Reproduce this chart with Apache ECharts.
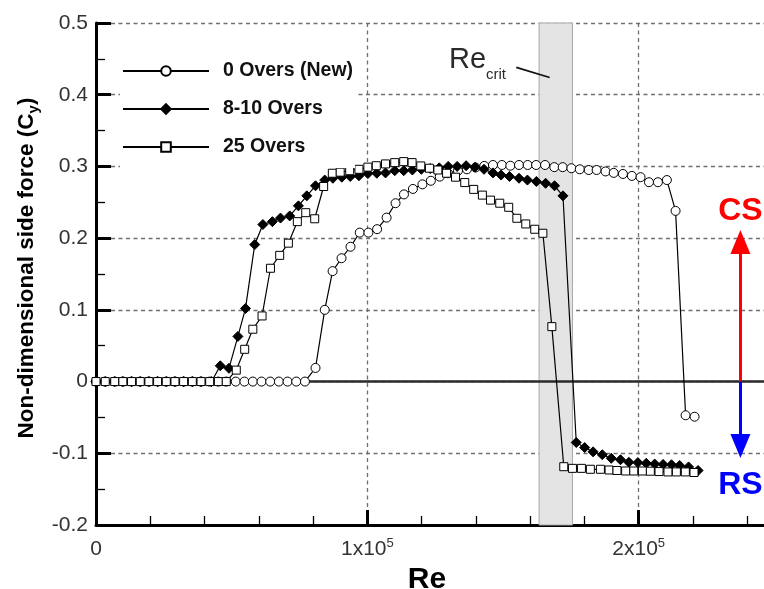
<!DOCTYPE html>
<html>
<head>
<meta charset="utf-8">
<script src="https://cdn.jsdelivr.net/npm/echarts@6/dist/echarts.min.js"></script>
<style>
  html, body { margin: 0; padding: 0; background: #ffffff; }
  #chart { width: 764px; height: 589px; }
</style>
</head>
<body>
<div id="chart"></div>
<script>
// Side force coefficient of a cricket ball against Reynolds number, for three ball ages.
const FONT = '"Liberation Sans", Arial, Helvetica, sans-serif';

const seriesNames = ['0 Overs (New)', '8-10 Overs', '25 Overs'];

// 0 overs (new ball)
const re0 = [0, 3400, 6900, 9900, 13100, 16300, 19500, 22700, 25900, 29100, 32300, 35500, 38700, 41900, 45100, 48000,
  51500, 54700, 57800, 61000, 64200, 67400, 70600, 73800, 77000, 80900, 84300, 87200, 90500, 93800, 97200, 100400,
  103600, 107100, 110400, 113500, 116800, 120300, 123400, 126700, 129700, 133400, 136700, 139900, 143100, 146300,
  149600, 152700, 155900, 159100, 162200, 165500, 168900, 172000, 175200, 178300, 181600, 184500, 187800, 190800,
  194200, 197500, 200700, 203800, 207100, 210400, 213600, 217300, 220600];
const cy0 = [0, 0, 0, 0, 0, 0, 0, 0, 0, 0, 0, 0, 0, 0, 0, 0,
  0, 0, 0, 0, 0, 0, 0, 0, 0, 0.019, 0.100, 0.154, 0.172, 0.188, 0.2077, 0.2077,
  0.2125, 0.2286, 0.2487, 0.261, 0.2686, 0.275, 0.280, 0.2858, 0.2905, 0.294, 0.296, 0.2985, 0.3007, 0.302,
  0.302, 0.301, 0.302, 0.302, 0.302, 0.302, 0.299, 0.299, 0.2975, 0.296, 0.295, 0.295, 0.293, 0.291,
  0.2895, 0.2868, 0.285, 0.278, 0.278, 0.281, 0.238, -0.047, -0.049];

// 8-10 overs
const re8 = [0, 3400, 6900, 9900, 13100, 16300, 19500, 22700, 25900, 29100, 32300, 35500, 38700, 42600,
  45800, 49000, 52300, 55100, 58500, 61500, 65000, 68000, 71400, 74600, 77700, 80900, 84300, 87300, 90600,
  93700, 96900, 100200, 103500, 106700, 110100, 113400, 116600, 119900, 123200, 126500, 129800, 133100, 136400,
  139700, 143000, 146300, 149300, 152400, 155900, 159000, 162300, 165700, 169000, 172100, 177000, 180100, 183200,
  186600, 189900, 193300, 196400, 199700, 202800, 205900, 209000, 212100, 215100, 218400, 221900];
const cy8 = [0, 0, 0, 0, 0, 0, 0, 0, 0, 0, 0, 0, 0, 0,
  0.022, 0.0185, 0.063, 0.102, 0.191, 0.219, 0.223, 0.228, 0.231, 0.245, 0.259, 0.273, 0.281, 0.2835, 0.285,
  0.286, 0.287, 0.290, 0.2905, 0.291, 0.294, 0.294, 0.295, 0.296, 0.297, 0.298, 0.300, 0.300, 0.301,
  0.299, 0.296, 0.291, 0.288, 0.286, 0.2835, 0.281, 0.279, 0.2765, 0.273, 0.259, -0.085, -0.092, -0.098,
  -0.102, -0.107, -0.109, -0.1125, -0.113, -0.114, -0.115, -0.1155, -0.116, -0.117, -0.119, -0.124];

// 25 overs
const re25 = [0, 3400, 6900, 9900, 13100, 16300, 19500, 22700, 25900, 29100, 32300, 35500, 38700, 41900, 45100, 48000,
  51700, 54800, 57800, 61200, 64300, 67700, 70900, 74200, 77300, 80600, 83900, 87100, 90000, 93500, 96900,
  100200, 103300, 106700, 110100, 113400, 116500, 119700, 122900, 126000, 129200, 132500, 135900, 139200, 142400,
  145400, 148800, 152100, 155100, 158400, 161700, 164700, 168000, 172400, 175600, 178900, 182200, 185900, 189100,
  192000, 195200, 198200, 201400, 204300, 207500, 210800, 213900, 217200, 220400];
const cy25 = [0, 0, 0, 0, 0, 0, 0, 0, 0, 0, 0, 0, 0, 0, 0, 0,
  0.016, 0.045, 0.073, 0.0915, 0.158, 0.176, 0.193, 0.223, 0.2355, 0.227, 0.272, 0.2905, 0.292, 0.294, 0.296,
  0.299, 0.301, 0.3035, 0.3053, 0.3067, 0.3053, 0.3007, 0.2975, 0.295, 0.2905, 0.285, 0.2775, 0.268, 0.260,
  0.253, 0.2487, 0.243, 0.2277, 0.2198, 0.2124, 0.2068, 0.0766, -0.1187, -0.121, -0.121, -0.1223, -0.1223, -0.1233,
  -0.124, -0.1247, -0.1247, -0.1247, -0.125, -0.1255, -0.126, -0.126, -0.126, -0.1268];

// Axis ranges and labelled x ticks
const xRange = [0, 300000];
const yRange = [-0.2, 0.5];
const xLabelled = [0, 100000, 200000];

// Critical Reynolds number band and annotations (data units)
const critBand = [163300, 175600];
const critLabelAt = [140600, 0.448];
const critLeader = [[154900, 0.438], [167200, 0.424]];
const arrowRe = 237500;
const csArrowEnd = 0.1947;
const rsArrowEnd = -0.090;
const csLabelAt = 0.238;
const rsLabelAt = -0.145;

const pairs = (xs, ys) => xs.map((x, i) => [x, ys[i]]);

const chart = echarts.init(document.getElementById('chart'), null, { renderer: 'canvas' });

const dataLine = (name, xs, ys, symbol, size, fill) => ({
  name: name,
  type: 'line',
  data: pairs(xs, ys),
  symbol: symbol,
  symbolSize: size,
  showAllSymbol: true,
  clip: true,
  lineStyle: { color: '#000', width: 1.2 },
  itemStyle: { color: fill, borderColor: '#000', borderWidth: 1 },
  emphasis: { disabled: true },
  animation: false
});

chart.setOption({
  animation: false,
  backgroundColor: '#ffffff',
  textStyle: { fontFamily: FONT },
  grid: { left: 96, top: 23, bottom: 64, right: -146, containLabel: false, outerBoundsMode: 'none' },
  legend: {
    data: seriesNames,
    orient: 'vertical',
    left: 120,
    top: 50,
    padding: [10, 2, 10, 2],
    backgroundColor: '#ffffff',
    itemWidth: 86,
    itemHeight: 12,
    itemGap: 16,
    selectedMode: false,
    textStyle: { fontFamily: FONT, fontSize: 19.5, fontWeight: 'bold', color: '#111', lineHeight: 22, padding: [0, 0, 0, 9] }
  },
  xAxis: {
    type: 'value',
    min: xRange[0],
    max: xRange[1],
    interval: 100000,
    name: 'Re',
    nameLocation: 'middle',
    nameGap: 35,
    nameTextStyle: { fontFamily: FONT, fontSize: 30, fontWeight: 'bold', color: '#000', padding: [0, 152, 0, 0] },
    axisLine: { show: true, onZero: false, lineStyle: { color: '#000', width: 3 } },
    axisTick: { show: true, inside: true, length: 15, lineStyle: { color: '#000', width: 3 } },
    minorTick: { show: true, splitNumber: 5, length: 9, lineStyle: { color: '#000', width: 1.3 } },
    axisLabel: {
      show: true,
      margin: 12,
      color: '#333',
      fontFamily: FONT,
      fontSize: 21,
      formatter: v => {
        if (xLabelled.indexOf(v) < 0) return '';
        if (v === 0) return '{m|0}';
        return '{m|' + (v / 100000) + 'x10}{e|5}';
      },
      rich: {
        m: { fontFamily: FONT, fontSize: 21, color: '#333', lineHeight: 24 },
        e: { fontFamily: FONT, fontSize: 13, color: '#333', lineHeight: 12, verticalAlign: 'top' }
      }
    },
    splitLine: { show: true, lineStyle: { color: '#6f6f6f', width: 1.3, type: [4, 3.5] } },
    minorSplitLine: { show: false }
  },
  yAxis: {
    type: 'value',
    min: yRange[0],
    max: yRange[1],
    interval: 0.1,
    name: '{a|Non-dimensional side force (C}{s|y}{a|)}',
    nameLocation: 'middle',
    nameRotate: 90,
    nameGap: 52,
    nameTextStyle: {
      padding: [0, 0, 0, 12],
      rich: {
        a: { fontFamily: FONT, fontSize: 22.5, fontWeight: 'bold', color: '#000', lineHeight: 28 },
        s: { fontFamily: FONT, fontSize: 15, fontWeight: 'bold', color: '#000', lineHeight: 15, verticalAlign: 'bottom' }
      }
    },
    axisLine: { show: true, onZero: false, lineStyle: { color: '#000', width: 3 } },
    axisTick: { show: true, inside: true, length: 15, lineStyle: { color: '#000', width: 3 } },
    minorTick: { show: true, splitNumber: 2, length: 9, lineStyle: { color: '#000', width: 1.3 } },
    axisLabel: {
      show: true,
      margin: 8,
      color: '#333',
      fontFamily: FONT,
      fontSize: 21,
      formatter: v => String(Number(v.toFixed(1)))
    },
    splitLine: { show: true, lineStyle: { color: '#6f6f6f', width: 1.3, type: [4, 3.5] } }
  },
  series: [
    {
      name: 'zero',
      type: 'line',
      data: [[xRange[0], 0], [xRange[1], 0]],
      symbol: 'none',
      silent: true,
      lineStyle: { color: '#2a2a2a', width: 2.6 },
      animation: false,
      markArea: {
        silent: true,
        itemStyle: { color: '#e4e4e4', borderColor: '#a8a8a8', borderWidth: 1 },
        data: [[{ xAxis: critBand[0] }, { xAxis: critBand[1] }]]
      },
      markLine: {
        silent: true,
        animation: false,
        symbol: ['none', 'none'],
        label: { show: false },
        emphasis: { disabled: true },
        data: [
          [
            { coord: critLeader[0], lineStyle: { color: '#111', width: 1.8, type: 'solid' } },
            { coord: critLeader[1] }
          ],
          [
            { coord: [arrowRe, 0], symbol: 'none', lineStyle: { color: '#ff0000', width: 3, type: 'solid' } },
            { coord: [arrowRe, csArrowEnd], symbol: 'triangle', symbolSize: [20, 24] }
          ],
          [
            { coord: [arrowRe, 0], symbol: 'none', lineStyle: { color: '#0000ff', width: 3, type: 'solid' } },
            { coord: [arrowRe, rsArrowEnd], symbol: 'triangle', symbolSize: [20, 24] }
          ]
        ]
      },
      markPoint: {
        silent: true,
        animation: false,
        symbol: 'circle',
        symbolSize: 1,
        itemStyle: { color: 'rgba(0,0,0,0)' },
        data: [
          {
            coord: critLabelAt,
            label: {
              show: true, position: 'inside', formatter: '{a|Re}{b|crit}',
              rich: {
                a: { fontFamily: FONT, fontSize: 29, color: '#2a2a2a', lineHeight: 45 },
                b: { fontFamily: FONT, fontSize: 15, color: '#2a2a2a', lineHeight: 15, verticalAlign: 'bottom' }
              }
            }
          },
          {
            coord: [arrowRe, csLabelAt],
            label: { show: true, position: 'inside', formatter: 'CS', fontFamily: FONT, fontSize: 32, fontWeight: 'bold', color: '#ff0000' }
          },
          {
            coord: [arrowRe, rsLabelAt],
            label: { show: true, position: 'inside', formatter: 'RS', fontFamily: FONT, fontSize: 32, fontWeight: 'bold', color: '#0000ff' }
          }
        ]
      }
    },
    dataLine(seriesNames[0], re0, cy0, 'circle', 9, '#ffffff'),
    dataLine(seriesNames[1], re8, cy8, 'diamond', 10, '#000000'),
    dataLine(seriesNames[2], re25, cy25, 'rect', 8, '#ffffff')
  ]
});
</script>
</body>
</html>
